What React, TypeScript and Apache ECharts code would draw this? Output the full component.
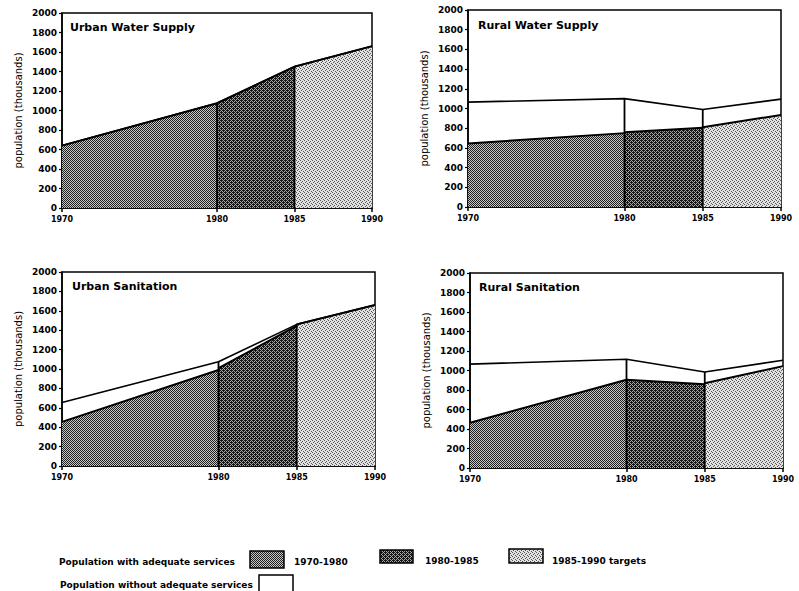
import React, { useEffect, useRef } from "react";
import * as echarts from "echarts";

// ---- data ----
const years = [1970, 1980, 1985, 1990];
const xTickYears = [1970, 1980, 1985, 1990];
const yMax = 2000;
const yStep = 200;

const titles = ["Urban Water Supply", "Rural Water Supply", "Urban Sanitation", "Rural Sanitation"];

// total population (top line) at 1970, 1980, 1985, 1990
const urbanWaterTotal = [640, 1075, 1450, 1660];
const ruralWaterTotal = [1065, 1100, 990, 1095];
const urbanSanTotal = [655, 1075, 1460, 1660];
const ruralSanTotal = [1065, 1115, 985, 1105];

// population with adequate services: value at start of each period (1970, 1980, 1985)
const urbanWaterServedStart = [640, 1075, 1450];
const ruralWaterServedStart = [645, 760, 810];
const urbanSanServedStart = [455, 1010, 1460];
const ruralSanServedStart = [465, 905, 870];
// ... and at the end of each period (1980, 1985, 1990)
const urbanWaterServedEnd = [1075, 1450, 1660];
const ruralWaterServedEnd = [750, 805, 935];
const urbanSanServedEnd = [990, 1445, 1660];
const ruralSanServedEnd = [905, 860, 1045];

const periodLabels = ["1970-1980", "1980-1985", "1985-1990 targets"];
const legendWith = "Population with adequate services";
const legendWithout = "Population without adequate services";

const panels = [
  { total: urbanWaterTotal, start: urbanWaterServedStart, end: urbanWaterServedEnd },
  { total: ruralWaterTotal, start: ruralWaterServedStart, end: ruralWaterServedEnd },
  { total: urbanSanTotal, start: urbanSanServedStart, end: urbanSanServedEnd },
  { total: ruralSanTotal, start: ruralSanServedStart, end: ruralSanServedEnd },
];

const FONT = "DejaVu Sans";

function makePattern(cells: string[], dark: string, light: string) {
  const n = cells.length;
  const c = document.createElement("canvas");
  c.width = n;
  c.height = n;
  const ctx = c.getContext("2d")!;
  for (let y = 0; y < n; y++) {
    for (let x = 0; x < n; x++) {
      ctx.fillStyle = cells[y][x] === "#" ? dark : light;
      ctx.fillRect(x, y, 1, 1);
    }
  }
  return { image: c.toDataURL(), repeat: "repeat", imageWidth: n, imageHeight: n } as any;
}

export default function App() {
  const ref = useRef<HTMLDivElement>(null);

  useEffect(() => {
    document.body.style.margin = "0";
    const chart = echarts.init(ref.current!, null, { renderer: "svg" });

    const patMid = makePattern(["#.#.", ".#.#", "#.#.", ".#.#"], "#1e1e1e", "#c8c8c8");
    const patDark = makePattern(["###.", ".#.#", "#.##", ".#.#"], "#151515", "#a8a8a8");
    const patLight = makePattern(["#...", "..#.", ".#..", "...#"], "#555555", "#e2e2e2");
    const fills = [patMid, patDark, patLight];

    const grids = [
      { left: 62, top: 13, width: 310, height: 195 },
      { left: 468, top: 10, width: 313, height: 197 },
      { left: 62, top: 272, width: 313, height: 194 },
      { left: 470, top: 273, width: 313, height: 195 },
    ];
    const titlePos = [
      { left: 70, top: 22 },
      { left: 478, top: 20 },
      { left: 72, top: 281 },
      { left: 479, top: 282 },
    ];

    const series: any[] = [];
    panels.forEach((p, i) => {
      for (let s = 0; s < 3; s++) {
        series.push({
          type: "line",
          xAxisIndex: i,
          yAxisIndex: i,
          symbol: "none",
          data: [
            [years[s], p.start[s]],
            [years[s + 1], p.end[s]],
          ],
          lineStyle: { color: "#000", width: 2 },
          areaStyle: { color: fills[s], opacity: 1 },
          z: 2,
        });
      }
      series.push({
        type: "line",
        xAxisIndex: i,
        yAxisIndex: i,
        symbol: "none",
        data: years.map((y, k) => [y, p.total[k]]),
        lineStyle: { color: "#000", width: 1.6 },
        z: 3,
      });
      [1, 2].forEach((k) => {
        series.push({
          type: "line",
          xAxisIndex: i,
          yAxisIndex: i,
          symbol: "none",
          data: [
            [years[k], 0],
            [years[k], p.total[k]],
          ],
          lineStyle: { color: "#000", width: 1.8 },
          z: 4,
        });
      });
    });

    const lf = `bold 9px "${FONT}"`;
    const graphic: any[] = [
      { type: "text", left: 59, top: 557, style: { text: legendWith, font: lf, fill: "#000" } },
      { type: "rect", shape: { x: 250, y: 551, width: 34, height: 17 }, style: { fill: patMid, stroke: "#000", lineWidth: 1.5 } },
      { type: "text", left: 294, top: 557, style: { text: periodLabels[0], font: lf, fill: "#000" } },
      { type: "rect", shape: { x: 380, y: 550, width: 33, height: 13 }, style: { fill: patDark, stroke: "#000", lineWidth: 1.5 } },
      { type: "text", left: 425, top: 556, style: { text: periodLabels[1], font: lf, fill: "#000" } },
      { type: "rect", shape: { x: 509, y: 549, width: 34, height: 14 }, style: { fill: patLight, stroke: "#000", lineWidth: 1.5 } },
      { type: "text", left: 552, top: 556, style: { text: periodLabels[2], font: lf, fill: "#000" } },
      { type: "text", left: 60, top: 580, style: { text: legendWithout, font: lf, fill: "#000" } },
      { type: "rect", shape: { x: 259, y: 575, width: 34, height: 20 }, style: { fill: "#fff", stroke: "#000", lineWidth: 1.5 } },
    ];

    chart.setOption({
      animation: false,
      backgroundColor: "#fff",
      title: titles.map((t, i) => ({
        text: t,
        left: titlePos[i].left,
        top: titlePos[i].top,
        padding: 0,
        textStyle: { fontFamily: FONT, fontWeight: "bold", fontSize: 11, color: "#000" },
      })),
      grid: grids.map((g) => ({ ...g, show: true, borderColor: "#000", borderWidth: 1.5, backgroundColor: "transparent" })),
      xAxis: grids.map((_, i) => ({
        type: "value",
        gridIndex: i,
        min: 1970,
        max: 1990,
        interval: 5,
        axisLine: { show: true, lineStyle: { color: "#000", width: 1.5 } },
        axisTick: { show: true, length: 4, lineStyle: { color: "#000", width: 1.5 }, customValues: xTickYears },
        axisLabel: {
          customValues: xTickYears,
          formatter: (v: number) => String(v),
          color: "#000",
          fontFamily: FONT,
          fontWeight: "bold",
          fontSize: 8,
          margin: 7,
        },
        splitLine: { show: false },
      })),
      yAxis: grids.map((_, i) => ({
        type: "value",
        gridIndex: i,
        min: 0,
        max: yMax,
        interval: yStep,
        name: "population (thousands)",
        nameLocation: "middle",
        nameGap: 39,
        nameRotate: 90,
        nameTextStyle: { fontFamily: FONT, fontSize: 10, color: "#000" },
        axisLine: { show: true, lineStyle: { color: "#000", width: 1.5 } },
        axisTick: { show: true, length: 3, lineStyle: { color: "#000", width: 1.2 } },
        axisLabel: {
          formatter: (v: number) => String(v),
          color: "#000",
          fontFamily: FONT,
          fontWeight: "bold",
          fontSize: 9,
          margin: 5,
        },
        splitLine: { show: false },
      })),
      series,
      graphic,
    });

    return () => chart.dispose();
  }, []);

  return <div ref={ref} style={{ width: 799, height: 591, position: "absolute", left: 0, top: 0 }} />;
}
